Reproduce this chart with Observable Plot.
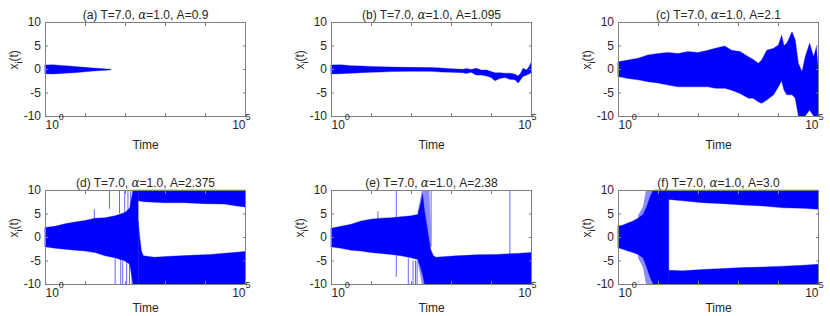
<!DOCTYPE html>
<html><head><meta charset="utf-8">
<script src="https://cdn.jsdelivr.net/npm/d3@7"></script>
<script src="https://cdn.jsdelivr.net/npm/@observablehq/plot@0.6"></script>
<style>
html,body{margin:0;padding:0;background:#fff;overflow:hidden}
body{width:830px;height:316px;position:relative}
.panel{position:absolute}
</style></head><body>
<div id="root"></div>
<script>
// ---------- labels & ticks ----------
const titles = [
  "(a) T=7.0, α=1.0, A=0.9",
  "(b) T=7.0, α=1.0, A=1.095",
  "(c) T=7.0, α=1.0, A=2.1",
  "(d) T=7.0, α=1.0, A=2.375",
  "(e) T=7.0, α=1.0, A=2.38",
  "(f) T=7.0, α=1.0, A=3.0"
];
const xLabel = "Time";
const yLabel = "x_i(t)";
const yTicks = [-10, -5, 0, 5, 10];
const xTicks = [1, 10, 100, 1000, 10000, 100000];
const xLabelFirst = [1];
const xLabelLast = [100000];

// ---------- (a) A=0.9 : envelope ----------
const aTime = [1, 1.585, 2.512, 3.981, 6.31, 10, 15.85, 25.12, 35.48, 44.67];
const aHi   = [0.85, 0.9, 0.75, 0.65, 0.5, 0.35, 0.2, 0.1, 0.0, -0.05];
const aLo   = [-1.0, -1.05, -0.95, -0.85, -0.75, -0.6, -0.45, -0.3, -0.25, -0.15];

// ---------- (b) A=1.095 ----------
const bTime = [1, 1.778, 3.162, 5.623, 10, 17.78, 31.62, 100, 316.2, 562.3, 1000, 1995, 2399, 3162, 4266, 5754, 7762, 10000, 12590, 16600, 22390, 29510, 39810, 47860, 54950, 63100, 77620, 89130, 100000];
const bHi   = [0.85, 0.9, 0.7, 0.65, 0.55, 0.5, 0.4, 0.35, 0.3, 0.2, 0.07, -0.07, 0.1, -0.1, 0.14, -0.2, -0.2, -0.55, -0.8, -0.8, -0.9, -0.9, -1.1, -1.5, -0.9, 0.14, -0.2, 0.5, 1.35];
const bLo   = [-1.05, -1.0, -0.9, -0.8, -0.7, -0.65, -0.55, -0.5, -0.5, -0.65, -0.7, -0.8, -0.95, -0.7, -1.3, -1.3, -1.5, -1.8, -2.5, -2.0, -1.8, -2.2, -2.3, -3.0, -2.3, -1.6, -1.3, -1.06, -0.8];

// ---------- (c) A=2.1 ----------
const cTime = [1, 1.778, 3.162, 5.623, 10, 17.78, 31.62, 56.23, 100, 177.8, 269.2, 467.7, 691.8, 1122, 1820, 2399, 3236, 3890, 5248, 7762, 10230, 12300, 14130, 16600, 22390, 26920, 32360, 39810, 47860, 61660, 77620, 91200, 100000];
const cHi   = [1.55, 1.9, 2.3, 3.0, 3.3, 3.5, 3.3, 3.7, 3.5, 4.0, 4.4, 4.9, 4.0, 3.7, 2.6, 2.0, 1.2, 1.9, 4.0, 4.4, 5.1, 7.2, 5.0, 5.5, 7.9, 6.2, 1.2, -0.6, 2.6, 5.5, 2.6, 4.75, 0.5];
const cLo   = [-1.6, -2.0, -2.3, -2.7, -3.0, -3.4, -3.8, -3.8, -3.8, -3.8, -4.1, -4.1, -4.5, -5.2, -6.2, -6.2, -7.0, -7.3, -6.6, -5.5, -3.8, -2.5, -4.5, -5.5, -5.5, -6.2, -10, -10, -10, -8.7, -10, -10, -10];

// ---------- (d) A=2.375 ----------
const dTime = [1, 1.778, 3.162, 5.623, 10, 17.78, 31.62, 56.23, 100, 131.8, 158.5, 213.8];
const dHi   = [2.0, 2.3, 2.8, 3.2, 3.5, 4.0, 4.1, 4.5, 5.2, 6.2, 10, 10];
const dLo   = [-2.1, -2.4, -2.6, -2.8, -3.0, -3.3, -4.0, -4.4, -5.1, -5.8, -10, -10];
const dUpTime = [213.8, 302, 955, 3020, 9550, 30200, 63096, 100000];
const dUpEdge = [7.7, 7.5, 7.3, 7.3, 7.1, 7.0, 6.6, 6.4];
const dDnTime = [213.8, 234.4, 257, 288.4, 537, 1380, 4365, 13800, 36300, 100000];
const dDnEdge = [3.4, -0.1, -3.0, -4.0, -4.3, -4.1, -3.9, -3.7, -3.4, -3.1];
const dSpikeTime = [16.6, 39.8, 55, 70.8, 75.9, 85.1, 95.5, 107, 115, 126, 135, 145];
const dSpikeLo   = [3.5, 6, -10, 5, -10, -10, 5, -10, 5, -10, 6, -10];
const dSpikeHi   = [5.9, 10, -4, 10, -4, -5, 10, -5, 10, -5, 10, -6];

// ---------- (e) A=2.38 ----------
const eTime = [1, 1.778, 3.162, 5.623, 10, 17.78, 31.62, 56.23, 100, 147.9, 173.8, 195, 218.8, 245.5, 275.4, 309, 363.1, 426.6, 1349, 4266, 13800, 43650, 100000];
const eHi   = [1.85, 2.3, 2.7, 3.4, 3.8, 4.0, 4.1, 4.3, 4.5, 4.8, 7.0, 9.1, 5.5, 2.7, -0.1, -2.6, -4.0, -4.3, -4.0, -3.8, -3.7, -3.5, -3.3];
const eLo   = [-2.1, -2.4, -2.8, -3.0, -3.3, -3.5, -3.7, -4.0, -4.4, -4.8, -6.5, -8, -10, -10, -10, -10, -10, -10, -10, -10, -10, -10, -10];
const eLightTime = [147.9, 173.8, 186.2, 245.5, 288.4, 309];
const eLightHi   = [5.5, 8.5, 10, 10, 10, 2];
const eLightLo   = [-5.5, -8.5, -10, -10, -10, -10];
const eSpikeTime = [14.45, 41.69, 41.69, 83.18, 109.6, 125.9, 138, 309, 28840];
const eSpikeLo   = [3.8, 3.5, -8.5, -10, -10, -10, -10, -2, -4];
const eSpikeHi   = [5.5, 10, -4, -4.5, -5, -5, -5, 10, 10];

// ---------- (f) A=3.0 ----------
const fTime = [1, 1.334, 1.778, 2.371, 3.162, 4.217, 5.248, 6.31, 7.586, 18.62];
const fHi   = [2.3, 2.55, 3.0, 3.4, 4.0, 4.8, 6.5, 8.5, 10, 10];
const fLo   = [-2.3, -2.6, -3.0, -3.3, -3.7, -4.4, -6.5, -8.5, -10, -10];
const fLightTime = [3.162, 4.217, 5.0, 5.754, 7.586];
const fLightHi   = [4.6, 6.5, 10, 10, 10];
const fLightLo   = [-4.4, -6.5, -10, -10, -10];
const fBandTime = [18.62, 41.69, 131.8, 426.6, 1349, 4266, 13800, 43650, 100000];
const fUpEdge   = [8.0, 7.7, 7.3, 7.1, 6.8, 6.6, 6.2, 6.1, 5.9];
const fDnEdge   = [-7.1, -7.2, -6.9, -6.7, -6.5, -6.4, -6.2, -6.0, -5.8];

// ---------- helpers ----------
const BLUE = "#0000ff";
const FONT = '"Liberation Sans", Arial, Helvetica, sans-serif';
const rows = (t, lo, hi) => t.map((v, i) => ({t: v, lo: lo[i], hi: hi[i]}));
const fill = (t, v) => t.map(() => v);
const band = (data, extra = {}) => Plot.areaY(data, {x: "t", y1: "lo", y2: "hi", fill: BLUE, stroke: BLUE, strokeOpacity: 0.45, strokeWidth: 0.8, ...extra});
const light = (t, lo, hi) => Plot.areaY(rows(t, lo, hi), {x: "t", y1: "lo", y2: "hi", fill: BLUE, fillOpacity: 0.45});
const spikes = (t, lo, hi) => Plot.ruleX(rows(t, lo, hi), {x: "t", y1: "lo", y2: "hi", stroke: BLUE, strokeOpacity: 0.6, strokeWidth: 1});

const panelMarks = [
  [band(rows(aTime, aLo, aHi))],
  [band(rows(bTime, bLo, bHi))],
  [band(rows(cTime, cLo, cHi))],
  [spikes(dSpikeTime, dSpikeLo, dSpikeHi),
   band(rows(dTime, dLo, dHi)),
   band(rows(dUpTime, dUpEdge, fill(dUpTime, 10))),
   band(rows(dDnTime, fill(dDnTime, -10), dDnEdge))],
  [light(eLightTime, eLightLo, eLightHi),
   spikes(eSpikeTime, eSpikeLo, eSpikeHi),
   band(rows(eTime, eLo, eHi))],
  [light(fLightTime, fLightLo, fLightHi),
   band(rows(fTime, fLo, fHi)),
   band(rows(fBandTime, fUpEdge, fill(fBandTime, 10))),
   band(rows(fBandTime, fill(fBandTime, -10), fDnEdge))]
];

const lefts = [0, 286, 573];
const tops = [0, 168];
const heights = [156, 148];
const labelDy = [32, 27];
const AX = "#7f7f7f", TX = "#262626";
const NS = "http://www.w3.org/2000/svg";

panelMarks.forEach((marks, i) => {
  const row = Math.floor(i / 3);
  const svg = Plot.plot({
    width: 257, height: heights[row],
    marginLeft: 45, marginRight: 12, marginTop: 22, marginBottom: heights[row] - 22 - 94,
    style: {fontFamily: FONT, fontSize: "12px", color: TX, background: "white", overflow: "visible"},
    x: {type: "log", domain: [1, 1e5]},
    y: {domain: [-10, 10]},
    marks: [
      ...marks,
      Plot.frame({stroke: AX, strokeWidth: 1}),
      Plot.axisX(xTicks, {anchor: "bottom", tickSize: -3, stroke: AX, fill: "none", label: null}),
      Plot.axisX(xTicks, {anchor: "top", tickSize: -3, stroke: AX, fill: "none", label: null}),
      Plot.axisY(yTicks, {anchor: "left", tickSize: -3, stroke: AX, fill: "none", label: null}),
      Plot.axisY(yTicks, {anchor: "right", tickSize: -3, stroke: AX, fill: "none", label: null}),
      Plot.axisY(yTicks, {anchor: "left", tickSize: 0, tickPadding: 4.5, tickFormat: d => String(d), fill: TX, label: null, fontSize: 12}),
      Plot.text(xLabelFirst, {x: d => d, text: d => "10^" + Math.round(Math.log10(d)), frameAnchor: "bottom", dy: 12, lineAnchor: "bottom", textAnchor: "start", fill: TX, fontSize: 12}),
      Plot.text(xLabelLast, {x: d => d, text: d => "10^" + Math.round(Math.log10(d)), frameAnchor: "bottom", dy: 12, dx: -13.35, lineAnchor: "bottom", textAnchor: "start", fill: TX, fontSize: 12}),
      Plot.text([xLabel], {frameAnchor: "bottom", dy: labelDy[row], lineAnchor: "bottom", fill: TX, fontSize: 12}),
      Plot.text([yLabel], {frameAnchor: "left", dx: -31, rotate: -90, fill: TX, fontSize: 12}),
      Plot.text([titles[i]], {frameAnchor: "top", dy: -4, lineAnchor: "bottom", fill: TX, fontSize: 12})
    ]
  });
  // rich text: superscripts, subscript, TeX-like alpha
  svg.querySelectorAll("text").forEach(t => {
    if (t.querySelector("tspan")) return;
    const s = t.textContent;
    const m = s.match(/^10\^(\d)$/);
    if (m) {
      t.textContent = "10";
      const sp = document.createElementNS(NS, "tspan");
      sp.setAttribute("dy", "-9"); sp.setAttribute("font-size", "9");
      sp.textContent = m[1];
      t.appendChild(sp);
    } else if (s === yLabel) {
      t.textContent = "x";
      const sb = document.createElementNS(NS, "tspan");
      sb.setAttribute("dy", "4"); sb.setAttribute("font-size", "9"); sb.textContent = "i";
      const rest = document.createElementNS(NS, "tspan");
      rest.setAttribute("dy", "-4"); rest.textContent = "(t)";
      t.appendChild(sb); t.appendChild(rest);
    } else if (s.includes("α")) {
      const [pre, post] = s.split("α");
      t.textContent = pre;
      const al = document.createElementNS(NS, "tspan");
      al.setAttribute("font-style", "italic"); al.setAttribute("font-family", "'DejaVu Serif', serif");
      al.textContent = "α";
      const po = document.createElementNS(NS, "tspan");
      po.textContent = post;
      t.appendChild(al); t.appendChild(po);
    }
  });
  const div = document.createElement("div");
  div.className = "panel";
  div.style.left = lefts[i % 3] + "px";
  div.style.top = tops[row] + "px";
  div.appendChild(svg);
  document.getElementById("root").appendChild(div);
});
</script>
</body></html>
